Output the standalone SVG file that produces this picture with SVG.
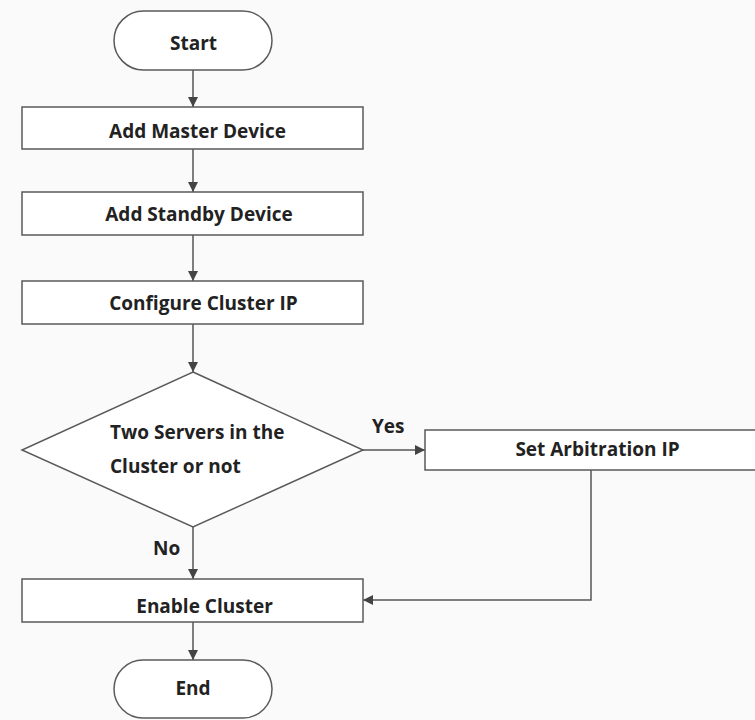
<svg xmlns="http://www.w3.org/2000/svg" width="755" height="720" viewBox="0 0 755 720">
<style>
.box{fill:#ffffff;stroke:#5a5a5a;stroke-width:1.5}
.t{font-family:"Open Sans","Liberation Sans",sans-serif;font-weight:bold;font-size:19px;fill:#222222}
.c{text-anchor:middle}
.ln{fill:none;stroke:#555555;stroke-width:1.5}
</style>
<defs>
<marker id="ah" markerWidth="10" markerHeight="10" refX="10" refY="5" orient="auto" markerUnits="userSpaceOnUse">
<path d="M0,0 L10,5 L0,10 Z" fill="#444444"/>
</marker>
</defs>
<rect width="755" height="720" fill="#fafafa"/>
<g id="connectors">
<line class="ln" x1="193" y1="70" x2="193" y2="107" marker-end="url(#ah)"/>
<line class="ln" x1="193" y1="149" x2="193" y2="192" marker-end="url(#ah)"/>
<line class="ln" x1="193" y1="235" x2="193" y2="281" marker-end="url(#ah)"/>
<line class="ln" x1="193" y1="324" x2="193" y2="372" marker-end="url(#ah)"/>
<line class="ln" x1="363" y1="450" x2="425" y2="450" marker-end="url(#ah)"/>
<line class="ln" x1="193" y1="527" x2="193" y2="579" marker-end="url(#ah)"/>
<polyline class="ln" points="591,470 591,600 363,600" marker-end="url(#ah)"/>
<line class="ln" x1="193" y1="622" x2="193" y2="660" marker-end="url(#ah)"/>
<text class="t" x="372" y="433">Yes</text>
<text class="t" x="153" y="555">No</text>
</g>
<g id="start">
<rect class="box" x="114" y="11" width="158" height="59" rx="29.5"/>
<text class="t c" x="193.5" y="50">Start</text>
</g>
<g id="add-master">
<rect class="box" x="22" y="107" width="341" height="42"/>
<text class="t c" x="197.5" y="138">Add Master Device</text>
</g>
<g id="add-standby">
<rect class="box" x="22" y="192" width="341" height="43"/>
<text class="t c" x="199" y="221">Add Standby Device</text>
</g>
<g id="configure-ip">
<rect class="box" x="22" y="281" width="341" height="43"/>
<text class="t c" x="203.5" y="310">Configure Cluster IP</text>
</g>
<g id="decision">
<polygon class="box" points="193,372 363,450 193,527 22,450"/>
<text class="t" x="110" y="439">Two Servers in the</text>
<text class="t" x="110" y="473">Cluster or not</text>
</g>
<g id="set-arbitration">
<rect class="box" x="425" y="430" width="345" height="40"/>
<text class="t c" x="597.5" y="456">Set Arbitration IP</text>
</g>
<g id="enable-cluster">
<rect class="box" x="22" y="579" width="341" height="43"/>
<text class="t c" x="204.5" y="613">Enable Cluster</text>
</g>
<g id="end">
<rect class="box" x="114" y="660" width="158" height="58" rx="29"/>
<text class="t c" x="193" y="695">End</text>
</g>
</svg>
